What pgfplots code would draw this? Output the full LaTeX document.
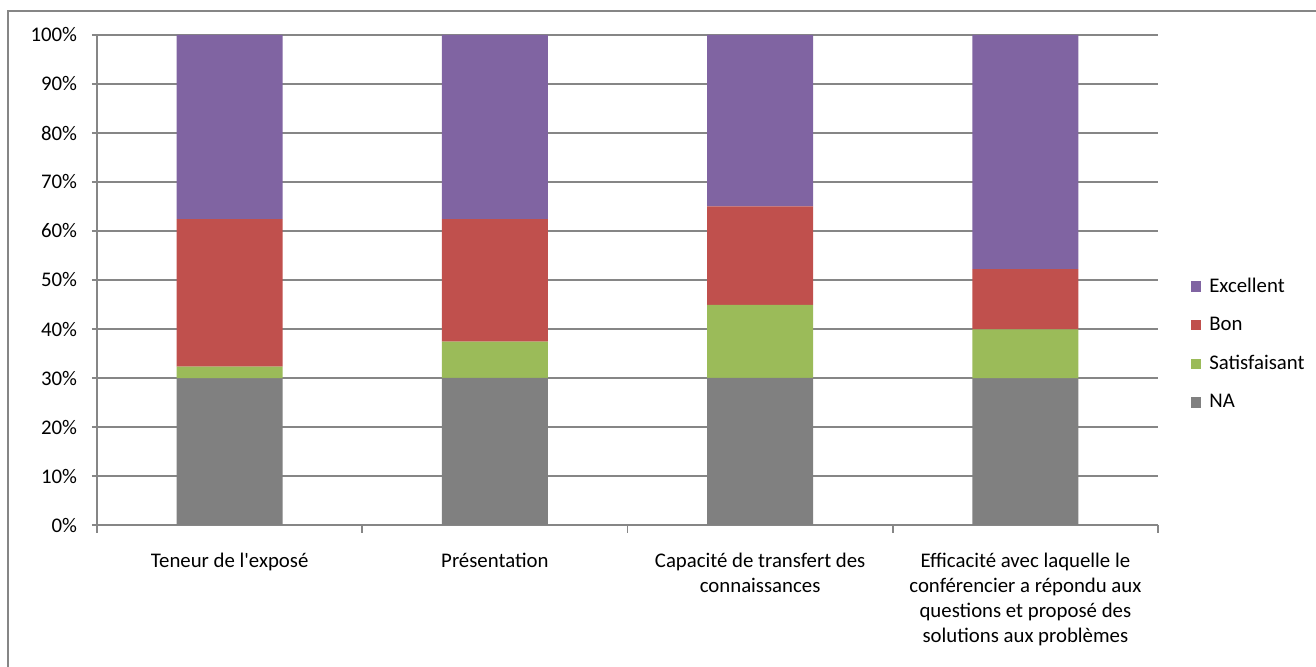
\documentclass[border=0pt]{standalone}
\usepackage{fontspec}
\setmainfont{Carlito}[Ligatures=TeXOff]
\usepackage{pgfplots}
\pgfplotsset{compat=1.18}
\definecolor{cExc}{HTML}{8064A2}
\definecolor{cBon}{HTML}{C0504D}
\definecolor{cSat}{HTML}{9BBB59}
\definecolor{cNA}{HTML}{808080}
\definecolor{gridc}{HTML}{868686}
\begin{document}
\fontsize{10.4}{12.4}\selectfont
\begin{tikzpicture}
\useasboundingbox (-48.5pt,-71pt) rectangle (609.5pt,262.5pt);
\draw[gridc, line width=0.8pt] (-44.5pt,-71pt) -- (-44.5pt,257pt) -- (609.5pt,257pt);
\begin{axis}[
  at={(0,0)}, anchor=south west,
  scale only axis, width=530.5pt, height=245pt,
  ybar stacked, bar width=0.4,
  xmin=-0.5, xmax=3.5, ymin=0, ymax=100,
  xtick={0,1,2,3},
  xticklabels={{Teneur de l'exposé},{Présentation},{Capacité de transfert des\\connaissances},{Efficacité avec laquelle le\\conférencier a répondu aux\\questions et proposé des\\solutions aux problèmes}},
  minor xtick={-0.5,0.5,1.5,2.5,3.5},
  x tick style={draw=none},
  minor x tick style={draw=gridc, line width=0.8pt},
  minor tick length=4pt,
  major tick length=2.5pt,
  y tick style={draw=gridc, line width=0.8pt},
  tick align=outside,
  ytick={0,10,...,100},
  yticklabel={\pgfmathparse{\tick}\pgfmathprintnumber[assume math mode=true,fixed,precision=0]{\pgfmathresult}\%},
  yticklabel style={font=\fontsize{10.4}{12.4}\selectfont, xshift=-3.8pt},
  xticklabel style={font=\fontsize{10.4}{12.4}\selectfont, align=center, anchor=north, yshift=-8pt},
  ymajorgrids,
  grid style={gridc, line width=0.7pt},
  axis x line*=bottom, axis y line*=left,
  axis line style={gridc, line width=0.8pt},
  legend style={draw=none, fill=none, at={(1.025,0.369)}, anchor=west,
    font=\fontsize{10.4}{12.4}\selectfont, row sep=6.8pt,
    /tikz/every odd column/.append style={column sep=2pt}},
  legend cell align=left,
  reverse legend,
  legend image code/.code={\fill[#1] (0pt,-2.6pt) rectangle (5.2pt,2.6pt);},
]
\addplot[fill=cNA, draw=none] coordinates {(0,29.9) (1,30) (2,30) (3,29.9)};
\addplot[fill=cSat, draw=none] coordinates {(0,2.4) (1,7.4) (2,14.9) (3,10)};
\addplot[fill=cBon, draw=none] coordinates {(0,30.1) (1,25) (2,20.1) (3,12.3)};
\addplot[fill=cExc, draw=none] coordinates {(0,37.6) (1,37.6) (2,35) (3,47.8)};
\legend{NA,Satisfaisant,Bon,Excellent}
\end{axis}
\end{tikzpicture}
\end{document}
